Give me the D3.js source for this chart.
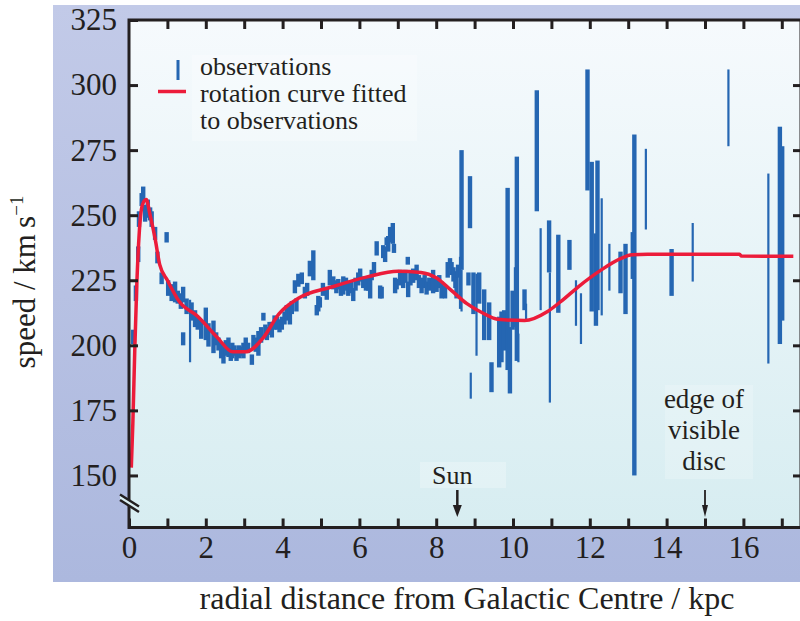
<!DOCTYPE html>
<html>
<head>
<meta charset="utf-8">
<script src="https://cdn.jsdelivr.net/npm/d3@7"></script>
<style>
  html, body { margin: 0; padding: 0; background: #fff; }
  svg { display: block; font-family: "Liberation Serif", "Times New Roman", serif; }
</style>
</head>
<body>
<svg id="chart" width="800" height="621"></svg>
<script>
// fitted rotation curve: [radius kpc, speed km/s]
const curveR = [0.06, 0.1, 0.15, 0.2, 0.27, 0.35, 0.45, 0.55, 0.68, 0.8, 1.0, 1.3, 1.8, 2.3, 2.7, 3.05,
  3.5, 3.9, 4.4, 5.3, 6.2, 7.0, 7.6, 8.0, 8.4, 8.8, 9.2, 9.6, 10.3, 10.9, 11.3, 11.7, 12.3, 12.8,
  13.1, 13.5, 15.9, 15.95, 17.3];
const curveV = [153, 170, 198, 222, 244, 254, 256, 250, 241, 231, 225, 217, 211, 203, 197.5, 197.5,
  203, 212, 218, 222.5, 226.3, 228.5, 228, 226, 221, 216, 212.5, 210, 209.5, 213, 217.5, 222.5, 229, 233.3,
  234.8, 235, 235, 234.3, 234.2];

// observations, heavy error bars: [radius, low, high]
const obsHeavy = [
  [0.11, 200.5, 206], [0.18, 217, 223], [0.24, 232, 238], [0.26, 245.5, 251.5], [0.33, 253.5, 258.5],
  [0.37, 255.5, 261], [0.42, 247.5, 254], [0.49, 249, 256], [0.55, 248, 253], [0.59, 245.5, 251.5],
  [0.68, 240.5, 245.5], [0.74, 231.5, 236], [0.85, 223.5, 228], [0.98, 239.5, 243.5], [1.02, 219, 225],
  [1.11, 217, 223.5], [1.2, 216.5, 224.5], [1.27, 216, 221], [1.35, 214, 220], [1.41, 216.5, 222.5],
  [1.41, 200, 205], [1.5, 212, 218], [1.63, 209.5, 216.5], [1.72, 207, 213.5], [1.79, 206, 211],
  [1.88, 202.5, 209.5], [2.0, 202, 214.5], [2.07, 199.5, 208.5], [2.2, 197, 209.5], [2.27, 200, 205],
  [2.33, 198, 203], [2.4, 195, 201], [2.46, 193, 199.5], [2.52, 196, 202], [2.59, 195.5, 203],
  [2.65, 194, 199], [2.69, 195, 201], [2.75, 196, 200], [2.8, 194, 198.5], [2.87, 195, 200],
  [2.93, 196, 199.5], [2.98, 195, 201], [3.04, 198, 203], [3.1, 197, 201], [3.2, 192.5, 196.5],
  [3.24, 199, 204], [3.3, 197.5, 203], [3.37, 196, 205.5], [3.44, 201, 207], [3.5, 209.5, 212.5],
  [3.55, 203, 208], [3.59, 202, 207], [3.66, 204, 209], [3.72, 203, 209], [3.79, 206, 211.5],
  [3.85, 206, 211], [3.92, 205, 210], [3.98, 206, 211], [4.05, 208, 213], [4.11, 209.5, 215.5],
  [4.19, 208, 216], [4.24, 212, 217], [4.32, 220, 225], [4.36, 213, 218], [4.41, 222.5, 227.5],
  [4.5, 223.5, 228], [4.58, 218, 222.5], [4.64, 219, 224], [4.71, 226.5, 232.5], [4.8, 225, 236.5],
  [4.89, 211.5, 215.5], [4.93, 213, 219], [4.97, 214.5, 218.5], [5.05, 219, 224], [5.15, 217.5, 222.5],
  [5.23, 223, 229], [5.32, 221.5, 226.5], [5.4, 220, 225], [5.45, 221.5, 225.5], [5.52, 219, 224],
  [5.58, 219.5, 226.5], [5.65, 221, 226], [5.71, 219, 224], [5.78, 220, 225], [5.84, 217, 222],
  [5.9, 221, 226], [5.97, 223, 228], [6.02, 224.5, 229.5], [6.1, 222, 226.5], [6.17, 221, 226],
  [6.23, 221, 226.5], [6.28, 218, 225.5], [6.32, 225, 229], [6.38, 227, 232], [6.45, 234.5, 240],
  [6.54, 218, 223], [6.58, 218, 222.5], [6.62, 233.5, 238.5], [6.67, 232, 238], [6.71, 238.5, 241.5],
  [6.75, 236, 242], [6.8, 239.5, 245.5], [6.87, 239, 247], [6.9, 235.5, 239], [6.93, 220, 226],
  [6.97, 221.5, 225.5], [7.06, 223, 229], [7.14, 222, 228], [7.2, 224, 229], [7.26, 231, 234],
  [7.27, 218.5, 224.5], [7.33, 223, 228], [7.4, 224, 229.5], [7.49, 225, 231], [7.55, 222, 227],
  [7.62, 220, 226], [7.7, 222, 227], [7.75, 219.5, 224.5], [7.82, 221, 226], [7.92, 220, 229],
  [8.01, 220.5, 225.5], [8.08, 222, 227], [8.14, 218, 224.5], [8.23, 218, 223], [8.3, 226, 232],
  [8.36, 229.5, 233.5], [8.4, 227, 232], [8.45, 224.5, 230], [8.5, 222, 228], [8.53, 218, 228.5],
  [8.57, 226, 231],
  [8.66, 229, 275], [8.88, 245, 265], [8.84, 223, 228], [8.97, 212, 228], [9.12, 216, 228],
  [9.25, 202, 221.5], [9.38, 202, 216.5], [9.44, 182, 193.5], [9.64, 191.5, 211], [9.7, 193.5, 213],
  [9.77, 198, 213.5], [9.86, 190.5, 260.5], [9.92, 181.5, 207], [9.99, 206, 221], [10.1, 194, 272.5],
  [10.3, 213.5, 221.5], [10.62, 251.5, 298], [10.94, 228, 248], [11.18, 212.5, 242.5], [11.47, 229, 240.5],
  [11.94, 259.5, 306], [12.05, 213, 270.5], [12.16, 207.5, 243], [12.2, 213.5, 271], [12.8, 220, 236],
  [12.93, 212, 239], [13.12, 225.5, 243.5], [13.16, 150, 281], [14.13, 219, 237], [16.95, 200.5, 284],
  [17.01, 209.5, 276.5]
];

// observations, light error bars: [radius, low, high]
const obsLight = [
  [1.59, 193.5, 217.5], [8.62, 214, 234], [8.66, 213, 229], [8.9, 179.5, 189.5], [9.05, 196, 227.5],
  [10.05, 207, 230], [10.14, 193.5, 204.5], [10.34, 209, 216], [10.72, 213.5, 245], [10.96, 178, 228],
  [11.64, 207.5, 225], [11.77, 200.5, 220], [12.31, 211.5, 256.5], [12.51, 221, 239], [13.46, 244.5, 275.5],
  [14.68, 224.5, 247], [15.61, 276.5, 306], [16.65, 193, 266]
];

const yTicks = [150, 175, 200, 225, 250, 275, 300, 325];
const xTicks = d3.range(0, 18);
const legendLabels = ["observations", "rotation curve fitted", "to observations"];
const sunR = 8.55, edgeR = 15;
const edgeLabel = ["edge of", "visible", "disc"];

const ink = "#231f20", blue = "#2566b2", red = "#ec1c3a";
const svg = d3.select("#chart");

const x = d3.scaleLinear().domain([0, 17.5]).range([129, 801]);
const y = d3.scaleLinear().domain([130, 325]).range([527.5, 20]);

// gradients
const defs = svg.append("defs");
const gPanel = defs.append("linearGradient").attr("id", "panel").attr("x1", 0).attr("y1", 0).attr("x2", 0).attr("y2", 1);
gPanel.append("stop").attr("offset", 0).attr("stop-color", "#c2cae8");
gPanel.append("stop").attr("offset", 1).attr("stop-color", "#acb8de");
const gPlot = defs.append("linearGradient").attr("id", "plotbg").attr("x1", 0).attr("y1", 0).attr("x2", 0).attr("y2", 1);
gPlot.append("stop").attr("offset", 0).attr("stop-color", "#f6fafd");
gPlot.append("stop").attr("offset", 1).attr("stop-color", "#d7edf1");

svg.append("rect").attr("x", 53).attr("y", 5).attr("width", 760).attr("height", 577).attr("fill", "url(#panel)");
svg.append("rect").attr("x", x(0)).attr("y", y(325))
  .attr("width", x(17.5) - x(0)).attr("height", y(130) - y(325)).attr("fill", "url(#plotbg)");

// faint label boxes
svg.append("rect").attr("x", 192).attr("y", 55).attr("width", 225).attr("height", 86).attr("fill", "#fff").attr("opacity", 0.25);
svg.append("rect").attr("x", 420).attr("y", 462).attr("width", 86).attr("height", 26).attr("fill", "#fff").attr("opacity", 0.25);
svg.append("rect").attr("x", 665).attr("y", 385).attr("width", 88).attr("height", 94).attr("fill", "#fff").attr("opacity", 0.2);

// observations
const obs = svg.append("g");
obs.selectAll(".heavy").data(obsHeavy).join("rect").attr("class", "heavy")
  .attr("x", d => x(d[0]) - 2.2).attr("width", 4.4)
  .attr("y", d => y(d[2])).attr("height", d => y(d[1]) - y(d[2]))
  .attr("fill", blue);
obs.selectAll(".light").data(obsLight).join("rect").attr("class", "light")
  .attr("x", d => x(d[0]) - 1.1).attr("width", 2.2)
  .attr("y", d => y(d[2])).attr("height", d => y(d[1]) - y(d[2]))
  .attr("fill", blue);

// fitted curve
const line = d3.line().x(d => x(d[0])).y(d => y(d[1])).curve(d3.curveMonotoneX);
svg.append("path").datum(curveR.map((r, i) => [r, curveV[i]]))
  .attr("d", line).attr("fill", "none").attr("stroke", red).attr("stroke-width", 3.5);

// axes
const styleAxis = g => {
  g.select(".domain").remove();
  g.selectAll(".tick line").attr("stroke", ink).attr("stroke-width", 3);
  g.selectAll(".tick text").attr("fill", ink).attr("font-size", 31)
    .attr("font-family", "Liberation Serif, Times New Roman, serif");
};
svg.append("g").attr("transform", `translate(0,${y(130)})`)
  .call(d3.axisBottom(x).tickValues(xTicks).tickSizeInner(-9).tickSizeOuter(0).tickPadding(8)
    .tickFormat(d => d % 2 === 0 ? d : ""))
  .call(styleAxis);
svg.append("g").attr("transform", `translate(0,${y(325)})`)
  .call(d3.axisTop(x).tickValues(xTicks.slice(1)).tickSizeInner(-9).tickSizeOuter(0).tickFormat(""))
  .call(styleAxis);
svg.append("g").attr("transform", `translate(${x(0)},0)`)
  .call(d3.axisLeft(y).tickValues(yTicks).tickSizeInner(-9).tickSizeOuter(0).tickPadding(12))
  .call(styleAxis);
svg.append("g").attr("transform", `translate(${x(17.5)},0)`)
  .call(d3.axisRight(y).tickValues(yTicks.slice(0, -1)).tickSizeInner(-8).tickSizeOuter(0).tickFormat(""))
  .call(styleAxis);

svg.append("rect").attr("x", x(0)).attr("y", y(325))
  .attr("width", x(17.5) - x(0)).attr("height", y(130) - y(325))
  .attr("fill", "none").attr("stroke", ink).attr("stroke-width", 3);

// axis break
const bx = x(0);
svg.append("path").attr("d", `M${bx - 9},${495} L${bx + 10},${507} L${bx + 10},${512} L${bx - 9},${500} Z`)
  .attr("fill", "#dcf0f3");
svg.append("path").attr("d", `M${bx - 9},${494.5} L${bx + 10},${506.5} M${bx - 9},${500} L${bx + 10},${512}`)
  .attr("stroke", ink).attr("stroke-width", 2.5).attr("fill", "none");

// axis titles
svg.append("text").attr("x", 467).attr("y", 609).attr("text-anchor", "middle")
  .attr("font-size", 32).attr("fill", ink).text("radial distance from Galactic Centre / kpc");
const yt = svg.append("text").attr("transform", "translate(35,282) rotate(-90)")
  .attr("text-anchor", "middle").attr("font-size", 31).attr("fill", ink);
yt.append("tspan").text("speed / km\u2009s");
yt.append("tspan").attr("font-size", 19).attr("dy", -12).text("\u22121");

// legend
svg.append("rect").attr("x", 176.5).attr("y", 60).attr("width", 3).attr("height", 20).attr("fill", blue);
svg.append("line").attr("x1", 158).attr("x2", 186).attr("y1", 91.5).attr("y2", 91.5)
  .attr("stroke", red).attr("stroke-width", 3.5);
svg.append("g").selectAll("text").data(legendLabels).join("text")
  .attr("x", 200).attr("y", (d, i) => 75 + i * 27)
  .attr("font-size", 26).attr("fill", ink).text(d => d);

// annotations
const arrow = (r, w, sw) => {
  const ax = x(r);
  svg.append("line").attr("x1", ax).attr("x2", ax).attr("y1", 490).attr("y2", 508)
    .attr("stroke", ink).attr("stroke-width", sw);
  svg.append("path").attr("d", `M${ax - w},505 L${ax + w},505 L${ax},517 Z`).attr("fill", ink);
};
arrow(sunR, 4.5, 2.5);
arrow(edgeR, 3, 1.8);
svg.append("text").attr("x", x(sunR) - 5).attr("y", 484).attr("text-anchor", "middle")
  .attr("font-size", 26).attr("fill", ink).text("Sun");
svg.append("g").selectAll("text").data(edgeLabel).join("text")
  .attr("x", x(edgeR) - 1).attr("y", (d, i) => 408 + i * 31).attr("text-anchor", "middle")
  .attr("font-size", 27).attr("fill", ink).text(d => d);
</script>
</body>
</html>
